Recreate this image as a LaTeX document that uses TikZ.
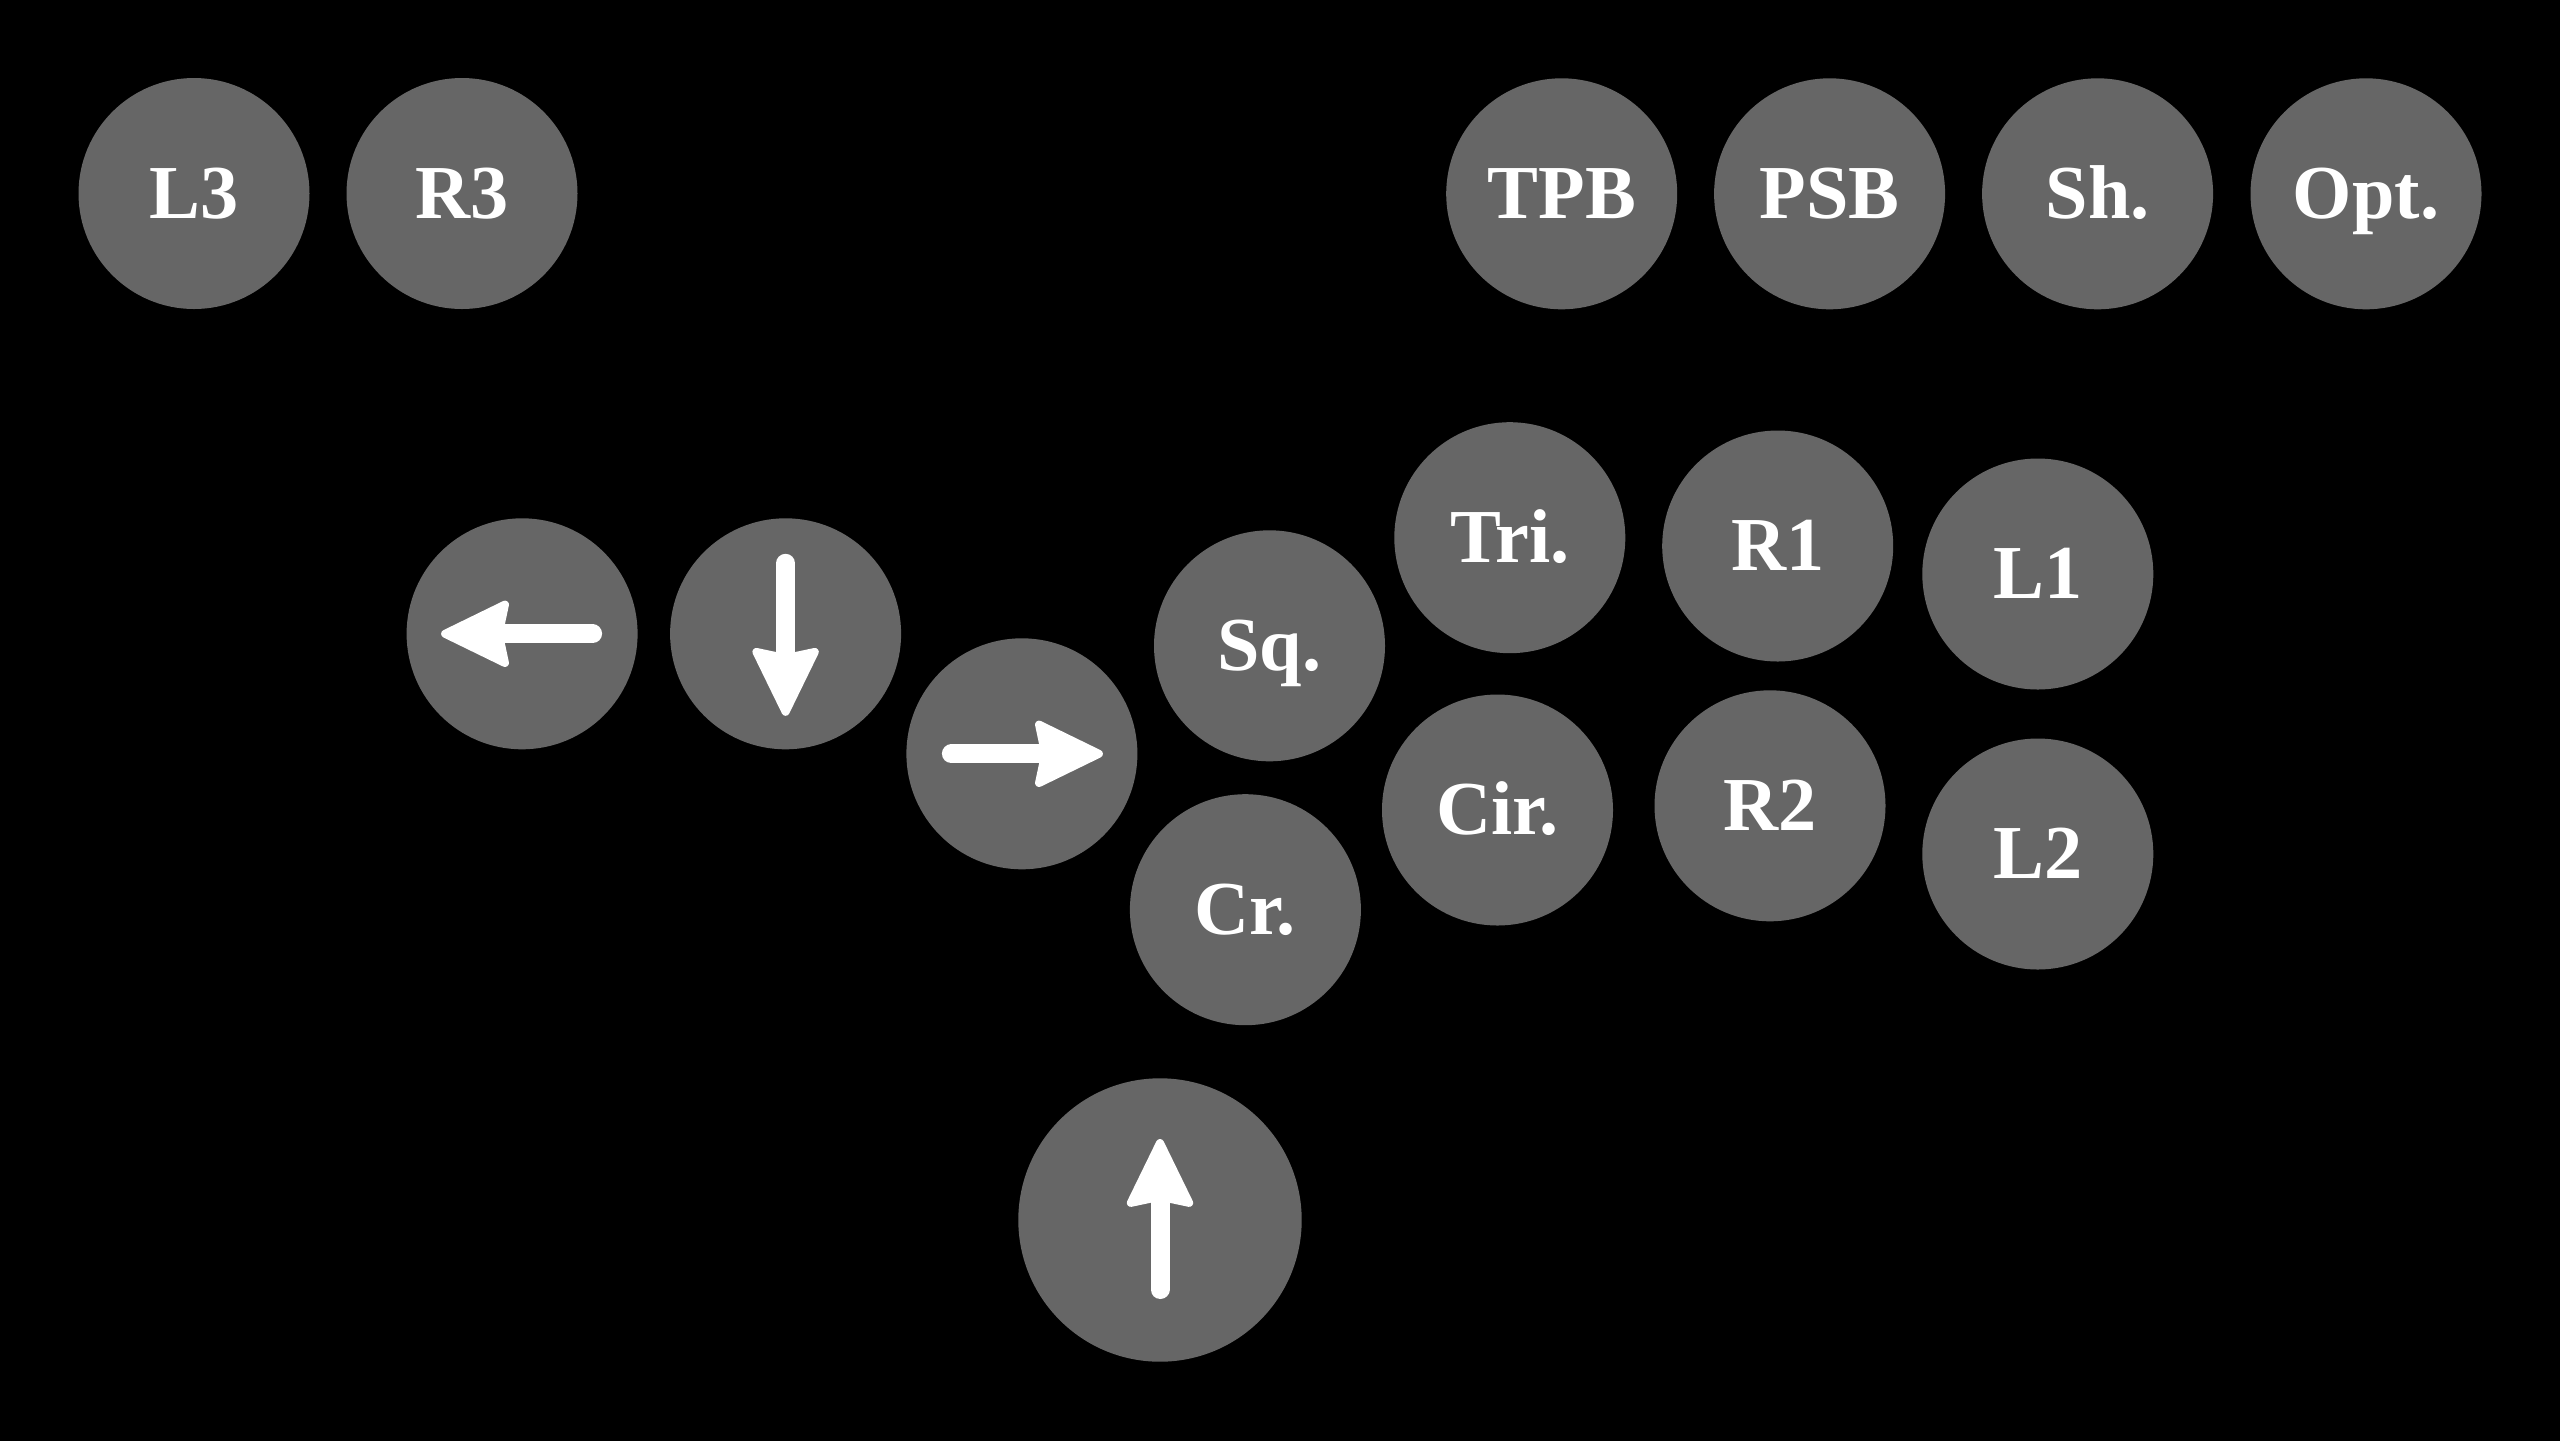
\documentclass[tikz,border=0pt]{standalone}
\usepackage{fontspec}
\setmainfont{Liberation Serif}
\usetikzlibrary{arrows.meta}
\definecolor{btngray}{HTML}{666666}
\begin{document}
\begin{tikzpicture}[y=-1cm,
  btn/.style={circle, fill=btngray, minimum size=2.31cm, inner sep=0pt, text=white,
    font=\bfseries\fontsize{21.7pt}{26pt}\selectfont, text height=14.2pt, text depth=0pt},
  bigbtn/.style={btn, minimum size=2.834cm},
  dirarrow/.style={white, line width=1.9mm, line cap=round,
    -{Stealth[length=7.4mm, width=7.1mm, inset=0.7mm, round, line width=0.8mm]}}]
\useasboundingbox (0,0) rectangle (25.6,14.4);
\fill[black] (-0.5,-0.5) rectangle (26.1,14.9);
% top row
\node[btn] (l3)  at (1.94,1.935)  {L3};
\node[btn] (r3)  at (4.62,1.935)  {R3};
\node[btn] (tpb) at (15.617,1.938) {TPB};
\node[btn] (psb) at (18.296,1.938) {PSB};
\node[btn] (sh)  at (20.976,1.938) {Sh.};
\node[btn] (opt) at (23.66,1.938)  {Opt.};
% directions
\node[btn] (left)  at (5.221,6.338) {};
\node[btn] (down)  at (7.856,6.338) {};
\node[btn] (right) at (10.219,7.538) {};
\node[bigbtn] (up) at (11.60,12.20) {};
% face buttons
\node[btn] (sq)  at (12.695,6.458) {Sq.};
\node[btn] (cr)  at (12.454,9.097) {Cr.};
\node[btn] (tri) at (15.098,5.377) {Tri.};
\node[btn] (cir) at (14.975,8.10)  {Cir.};
\node[btn] (r1)  at (17.777,5.46)  {R1};
\node[btn] (r2)  at (17.70,8.058)  {R2};
\node[btn] (l1)  at (20.378,5.74)  {L1};
\node[btn] (l2)  at (20.378,8.54)  {L2};
% arrows
\draw[dirarrow] ([xshift=7.05mm]left.center) -- ([xshift=-8.1mm]left.center);
\draw[dirarrow] ([yshift=7.05mm]down.center) -- ([yshift=-8.2mm]down.center);
\draw[dirarrow] ([xshift=-7.05mm]right.center) -- ([xshift=8.1mm]right.center);
\draw[dirarrow] ([yshift=-6.95mm]up.center) -- ([yshift=8.1mm]up.center);
\end{tikzpicture}
\end{document}
